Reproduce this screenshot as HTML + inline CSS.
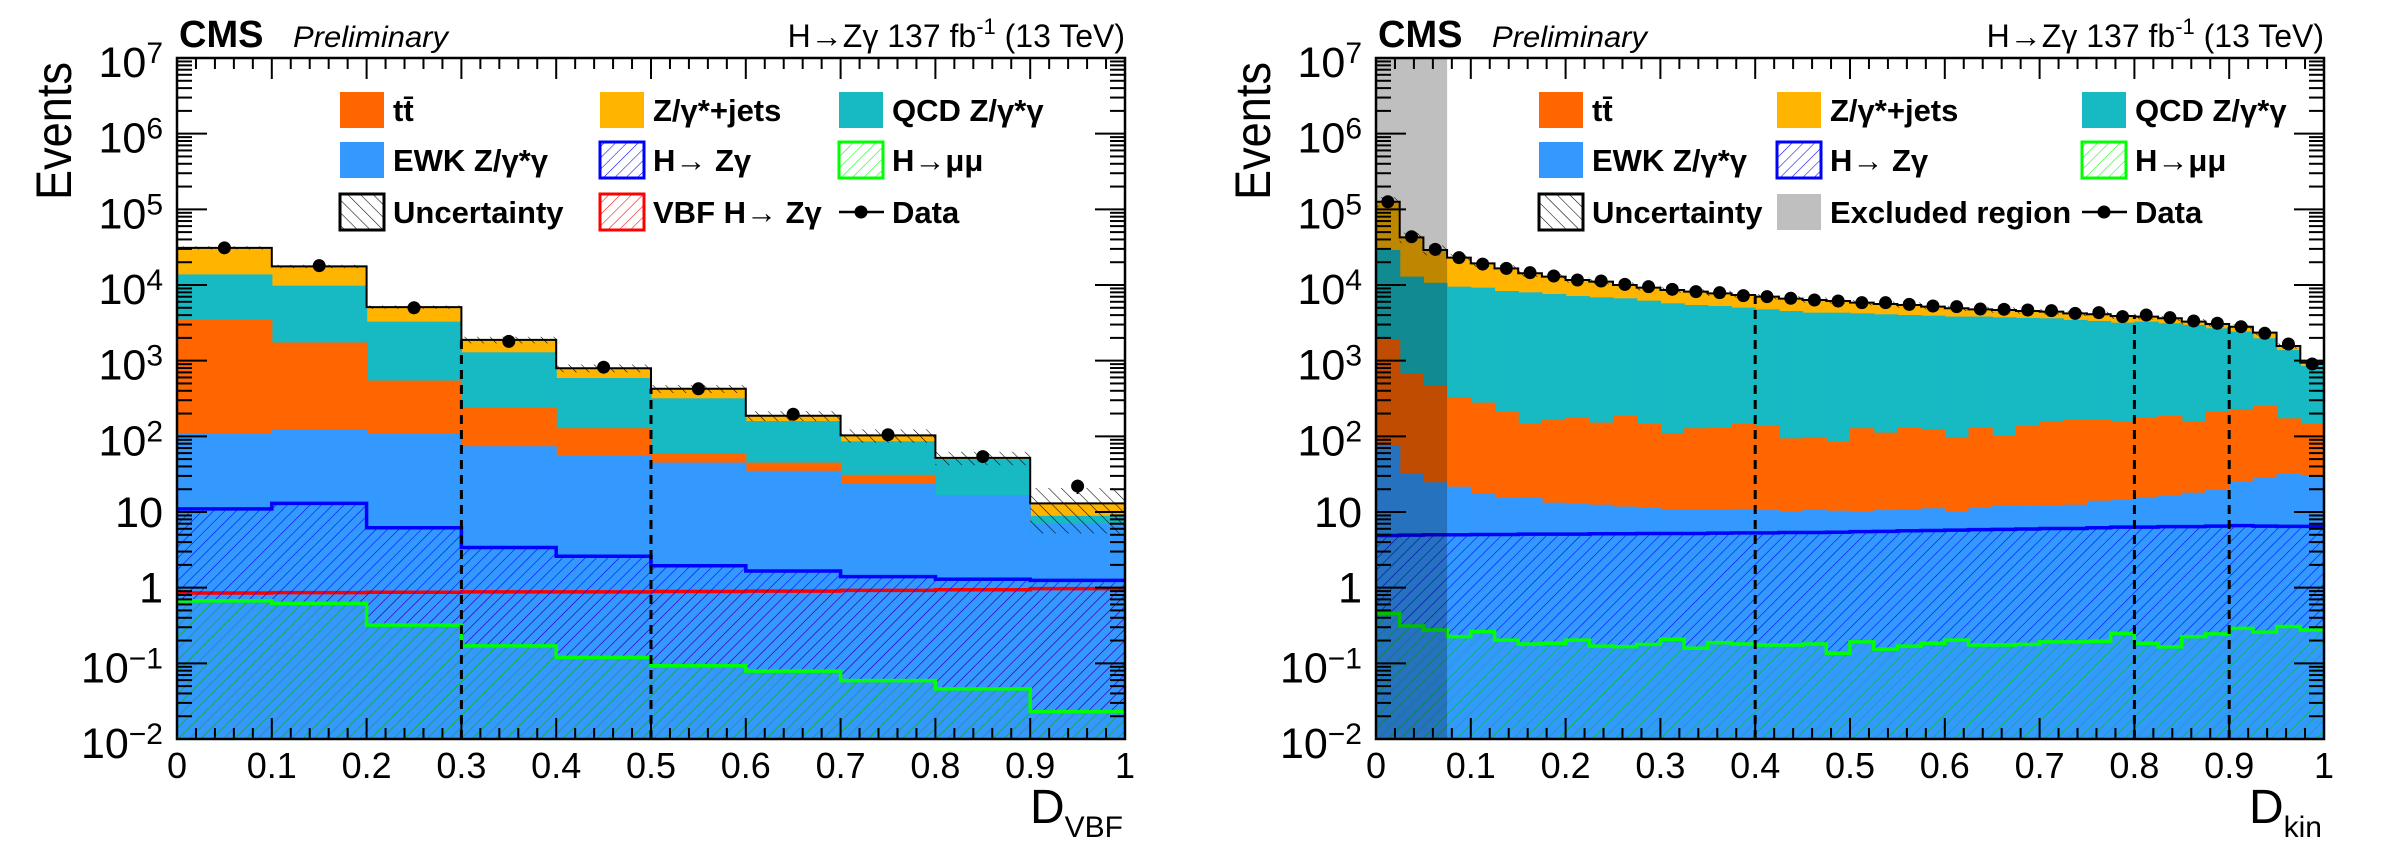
<!DOCTYPE html>
<html><head><meta charset="utf-8"><style>
html,body{margin:0;padding:0;background:#fff;}
svg{display:block;}
text{font-family:"Liberation Sans",Arial,sans-serif;}
</style></head><body>
<svg id="chart" width="2384" height="850" viewBox="0 0 2384 850" xmlns="http://www.w3.org/2000/svg">
<defs>
<pattern id="hBlue" patternUnits="userSpaceOnUse" width="8" height="8" patternTransform="rotate(45)"><line x1="0" y1="0" x2="0" y2="8" stroke="#0000ff" stroke-width="1.1"/></pattern>
<pattern id="hRed" patternUnits="userSpaceOnUse" width="8" height="8" patternTransform="rotate(45)"><line x1="0" y1="0" x2="0" y2="8" stroke="#ff0000" stroke-width="1.1"/></pattern>
<pattern id="hGreen" patternUnits="userSpaceOnUse" width="8" height="8" patternTransform="rotate(45)"><line x1="0" y1="0" x2="0" y2="8" stroke="#00ff00" stroke-width="1.1"/></pattern>
<pattern id="hBlack" patternUnits="userSpaceOnUse" width="9" height="9" patternTransform="rotate(-45)"><line x1="0" y1="0" x2="0" y2="9" stroke="#000" stroke-width="1.1"/></pattern>
</defs>
<g id="left"></g>
<g id="right"></g>
</svg>
<script>
// ---------- Left panel data (D_VBF, 10 bins) ----------
const lTotalTop = [31000,17600,5100,1880,795,425,187,103,52,13];
const lQcdTop   = [13800,9800,3280,1290,590,318,159,86,50,8.9];
const lTtTop    = [3500,1740,546,240,128,60,45,31,16.6,7];
const lEwkTop   = [109,123,109,74,56,45,35,24,16.6,7];
const lHzg      = [11,13,6.2,3.4,2.6,1.95,1.66,1.4,1.29,1.25];
const lVbf      = [0.85,0.86,0.87,0.88,0.88,0.89,0.9,0.92,0.94,0.97];
const lHmm      = [0.67,0.62,0.32,0.17,0.12,0.093,0.079,0.059,0.046,0.023];
const lData     = [31000,18000,5000,1800,820,425,196,105,54,22];
const lUnc      = [0.05,0.05,0.05,0.1,0.12,0.12,0.15,0.2,0.2,0.6];
const lCuts     = [0.3,0.5];
// ---------- Right panel data (D_kin, 40 bins) ----------
const rTotalTop = [126000,42600,29000,23000,19300,16600,14300,12900,11650,11070,10000,9220,8590,8170,7760,7380,7010,6600,6340,6140,5840,5610,5440,5170,4920,4770,4670,4530,4440,4220,4100,3890,3820,3630,3280,3050,2810,2345,1563,941];
const rQcdTop   = [29000,12900,10700,9500,9220,8330,8000,7600,7150,6870,6670,6210,5730,5440,5280,5020,4770,4530,4310,4310,4220,4100,4010,3930,3820,3820,3740,3670,3630,3450,3350,3180,3280,3120,2960,2680,2420,1980,1380,850];
const rTtTop    = [1914,680,468,327,279,212,149,164,177,152,186,149,110,128,131,149,137,94,97,85,128,112,131,124,97,131,104,137,156,168,168,155,178,191,156,216,228,252,173,149];
const rEwkTop   = [76.8,31.8,24.7,21.6,17.7,15.5,15.8,13.3,13.0,12.5,11.8,11.6,10.8,10.8,10.8,11.0,10.6,10.1,10.8,10.4,10.1,10.6,10.8,11.2,10.3,11.4,12.3,12.1,12.3,12.5,14.1,14.5,15.8,16.8,18.0,19.5,25.2,28.4,31.8,30.9];
const rHzg      = [4.9,4.95,5.0,5.0,5.05,5.05,5.1,5.1,5.1,5.15,5.15,5.2,5.2,5.2,5.25,5.3,5.3,5.35,5.35,5.4,5.5,5.55,5.65,5.7,5.75,5.85,5.9,5.95,6.05,6.05,6.2,6.3,6.3,6.4,6.4,6.5,6.6,6.5,6.45,6.45];
const rHmm      = [0.458,0.311,0.276,0.225,0.262,0.203,0.18,0.184,0.203,0.169,0.166,0.178,0.208,0.158,0.188,0.18,0.175,0.175,0.18,0.136,0.192,0.154,0.169,0.184,0.203,0.175,0.175,0.178,0.192,0.192,0.196,0.249,0.184,0.165,0.225,0.245,0.29,0.258,0.307,0.276];
const rData     = [126000,43500,29600,23000,18900,16600,14550,13150,11650,11300,10200,9500,8770,8170,7920,7230,7010,6670,6340,6140,5840,5840,5550,5280,5170,4810,4770,4670,4580,4220,4310,3820,4010,3700,3350,3120,2810,2300,1660,905];
const rUnc      = [0.15,0.15,0.15,0.12,0.1,0.1,0.1,0.08,0.08,0.08,0.08,0.08,0.08,0.08,0.08,0.08,0.08,0.08,0.08,0.08,0.08,0.08,0.08,0.08,0.08,0.08,0.08,0.08,0.08,0.08,0.08,0.08,0.08,0.08,0.08,0.08,0.08,0.08,0.08,0.08];
const rCuts     = [0.4,0.8,0.9];
const rExcluded = 0.075;
// ---------- Axis tick labels ----------
const xTickLabels = ["0","0.1","0.2","0.3","0.4","0.5","0.6","0.7","0.8","0.9","1"];
const yTickExps   = [-2,-1,0,1,2,3,4,5,6,7];

const NS = "http://www.w3.org/2000/svg";
const COL = {zj:"#ffb400", qcd:"#17b9c3", tt:"#ff6600", ewk:"#3399ff"};
const Y0 = 58, Y1 = 739, W = 948;
function yS(v){ const l = Math.log10(Math.max(v,1e-3)); return Y1 - (l + 2) * (Y1 - Y0) / 9; }
function mk(tag, attrs, parent){
  const e = document.createElementNS(NS, tag);
  for (const k in attrs) e.setAttribute(k, attrs[k]);
  parent.appendChild(e); return e;
}

function drawPanel(g, x0, d){
  const n = d.total.length;
  const xS = v => x0 + v * W;
  const bw = W / n;
  const stack = [[d.total,COL.zj,"zjets"],[d.qcd,COL.qcd,"qcd"],[d.tt,COL.tt,"ttbar"],[d.ewk,COL.ewk,"ewk"]];
  stack.forEach(([arr,c,nm]) => {
    arr.forEach((v,i) => {
      const r = mk("rect",{x:xS(i/n),y:yS(v),width:bw+0.6,height:Y1-yS(v),fill:c},g);
      
      
    });
  });
  d.sig.forEach(([arr,pat,c,nm]) => {
    arr.forEach((v,i) => {
      const r = mk("rect",{x:xS(i/n),y:yS(v),width:bw,height:Y1-yS(v),fill:"url(#"+pat+")"},g);
      
      
    });
    let p = "";
    arr.forEach((v,i) => { p += (i===0?"M":"L") + xS(i/n) + "," + yS(v) + "L" + xS((i+1)/n) + "," + yS(v); });
    const l = mk("path",{d:p,fill:"none",stroke:c,"stroke-width":3.5},g);
    
    
  });
  d.total.forEach((v,i) => {
    const r = mk("rect",{x:xS(i/n),y:yS(v*(1+d.unc[i])),width:bw,height:yS(v*(1-d.unc[i]))-yS(v*(1+d.unc[i])),fill:"url(#hBlack)"},g);
    
    
  });
  let tp = "";
  d.total.forEach((v,i) => { tp += (i===0?"M":"L") + xS(i/n) + "," + yS(v) + "L" + xS((i+1)/n) + "," + yS(v); });
  const tl = mk("path",{d:tp,fill:"none",stroke:"#000","stroke-width":2},g);
  
  
  if (d.excl){
    const ex = mk("rect",{x:x0,y:Y0,width:xS(d.excl)-x0,height:Y1-Y0,fill:"#000","fill-opacity":0.25},g);
    
    
  }
  d.cuts.forEach(c => {
    const i = Math.round(c*n);
    const top = Math.min(d.total[i-1], d.total[i]);
    const ln = mk("line",{x1:xS(c),x2:xS(c),y1:Y1,y2:yS(top),stroke:"#000","stroke-width":3,"stroke-dasharray":"9,6"},g);
    
    
  });
  d.data.forEach((v,i) => {
    const cx = xS((i+0.5)/n), cy = yS(v);
    const eb = mk("line",{x1:cx,x2:cx,y1:yS(v+Math.sqrt(v)),y2:yS(v-Math.sqrt(v)),stroke:"#000","stroke-width":2},g);
    
    
    const c = mk("circle",{cx:cx,cy:cy,r:6.5,fill:"#000"},g);
    
    
  });
  const fr = mk("rect",{x:x0,y:Y0,width:W,height:Y1-Y0,fill:"none",stroke:"#000","stroke-width":2.5},g);
  
  
  for (let k=0;k<=50;k++){
    const x = xS(k/50), L = (k%5===0)?21:11;
    const t1 = mk("line",{x1:x,x2:x,y1:Y1,y2:Y1-L,stroke:"#000","stroke-width":2},g);
    
    
    const t2 = mk("line",{x1:x,x2:x,y1:Y0,y2:Y0+L,stroke:"#000","stroke-width":2},g);
    
    
  }
  xTickLabels.forEach((s,k) => {
    const t = mk("text",{x:xS(k/10),y:778,"font-size":36,"text-anchor":"middle"},g);
    t.textContent = s;
    
    
  });
  for (let e=-2;e<=7;e++){
    for (let m=1;m<=9;m++){
      if (e===7 && m>1) break;
      const y = yS(m*Math.pow(10,e)), L = m===1?30:15;
      const a = mk("line",{x1:x0,x2:x0+L,y1:y,y2:y,stroke:"#000","stroke-width":2},g);
      
      
      const b = mk("line",{x1:x0+W,x2:x0+W-L,y1:y,y2:y,stroke:"#000","stroke-width":2},g);
      
      
    }
  }
  yTickExps.forEach(e => {
    const y = yS(Math.pow(10,e));
    const t = mk("text",{x:x0-14,y:(e===0||e===1)?y+15:y+19,"font-size":43,"text-anchor":"end"},g);
    
    
    if (e===0) t.textContent = "1";
    else if (e===1) t.textContent = "10";
    else {
      t.appendChild(document.createTextNode("10"));
      const s = mk("tspan",{"font-size":30,dy:-14},t);
      s.textContent = e<0 ? "\u2212" + (-e) : String(e);
    }
  });
  const yt = mk("text",{transform:"translate(" + (x0-106) + ",62) rotate(-90)","font-size":50,"text-anchor":"end",textLength:138,lengthAdjust:"spacingAndGlyphs"},g);
  yt.textContent = "Events";
  
  
  const xt = mk("text",{x:x0+W-2,y:823,"font-size":48,"text-anchor":"end"},g);
  
  
  xt.appendChild(document.createTextNode("D"));
  const sub = mk("tspan",{"font-size":30,dy:14},xt);
  sub.textContent = d.sub;
  const cms = mk("text",{x:x0+2,y:47,"font-size":38,"font-weight":"bold"},g);
  cms.textContent = "CMS";
  
  
  const pre = mk("text",{x:x0+116,y:47,"font-size":30,"font-style":"italic",textLength:155,lengthAdjust:"spacingAndGlyphs"},g);
  pre.textContent = "Preliminary";
  
  
  const lum = mk("text",{x:x0+W,y:47,"font-size":32,"text-anchor":"end"},g);
  
  
  lum.appendChild(document.createTextNode("H\u2192Z\u03b3  137 fb"));
  const sp = mk("tspan",{"font-size":22,dy:-13},lum); sp.textContent = "-1";
  const rest = mk("tspan",{dy:13},lum); rest.textContent = " (13 TeV)";
  d.legend.forEach(([col,row,kind,label]) => {
    const sx = d.legCols[col], cy = [110,160,212][row];
    if (kind === "data"){
      const ll = mk("line",{x1:sx,x2:sx+45,y1:cy,y2:cy,stroke:"#000","stroke-width":2.5},g);
      
      
      const lc = mk("circle",{cx:sx+22,cy:cy,r:6.5,fill:"#000"},g);
      
      
    } else {
      const a = {x:sx,y:cy-18,width:44,height:36};
      if (kind.fill){ a.fill = kind.fill; }
      if (kind.pat){ a.fill = "url(#" + kind.pat + ")"; a.stroke = kind.stroke; a["stroke-width"] = 3; }
      const sw = mk("rect",a,g);
      
      
    }
    const t = mk("text",{x:sx+53,y:cy+11,"font-size":31,"font-weight":"bold"},g);
    t.textContent = label;
    
    
  });
}

const baseLegend = [
  [0,0,{fill:COL.tt},"t\u0074\u0304"],
  [1,0,{fill:COL.zj},"Z/\u03b3*+jets"],
  [2,0,{fill:COL.qcd},"QCD Z/\u03b3*\u03b3"],
  [0,1,{fill:COL.ewk},"EWK Z/\u03b3*\u03b3"],
  [1,1,{pat:"hBlue",stroke:"#0000ff"}," H\u2192 Z\u03b3"],
  [2,1,{pat:"hGreen",stroke:"#00ff00"},"H\u2192\u03bc\u03bc"],
  [0,2,{pat:"hBlack",stroke:"#000"},"Uncertainty"],
  [2,2,"data","Data"]
];

drawPanel(document.getElementById("left"), 177, {
  total:lTotalTop, qcd:lQcdTop, tt:lTtTop, ewk:lEwkTop, data:lData, unc:lUnc, cuts:lCuts,
  sig:[[lVbf,"hRed","#ff0000","vbf-hzg"],[lHzg,"hBlue","#0000ff","hzg"],[lHmm,"hGreen","#00ff00","hmumu"]],
  sub:"VBF", legCols:[340,600,839],
  legend: baseLegend.concat([[1,2,{pat:"hRed",stroke:"#ff0000"},"VBF H\u2192 Z\u03b3"]])
});
drawPanel(document.getElementById("right"), 1376, {
  total:rTotalTop, qcd:rQcdTop, tt:rTtTop, ewk:rEwkTop, data:rData, unc:rUnc, cuts:rCuts, excl:rExcluded,
  sig:[[rHzg,"hBlue","#0000ff","hzg"],[rHmm,"hGreen","#00ff00","hmumu"]],
  sub:"kin", legCols:[1539,1777,2082],
  legend: baseLegend.concat([[1,2,{fill:"#bfbfbf"},"Excluded region"]])
});
</script>
</body></html>
